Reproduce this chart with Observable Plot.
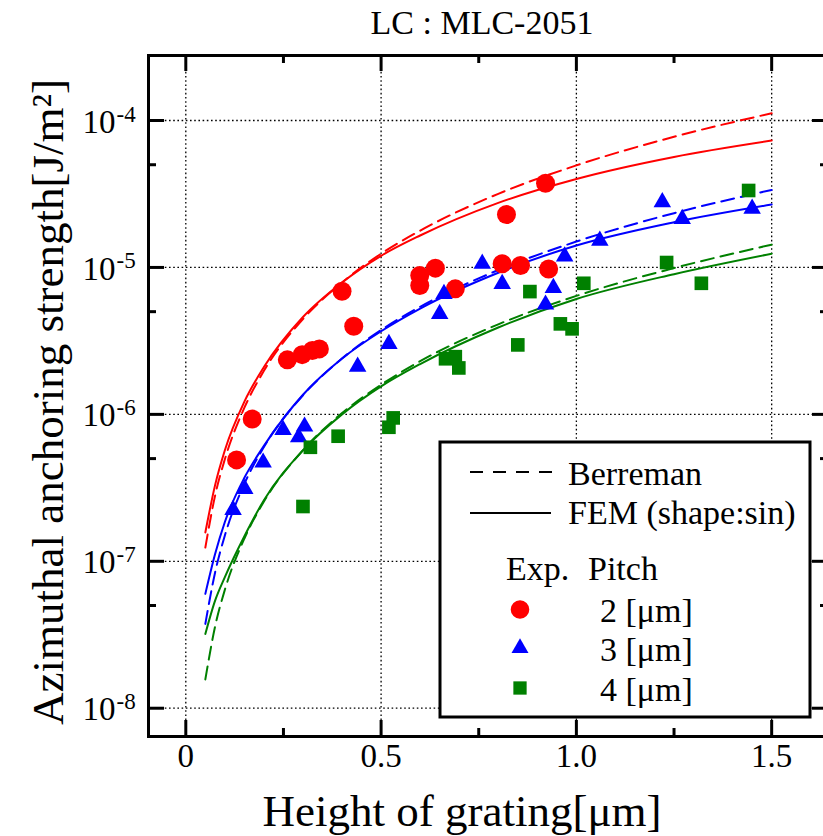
<!DOCTYPE html>
<html><head><meta charset="utf-8">
<script src="https://cdn.jsdelivr.net/npm/d3@7"></script>
<script src="https://cdn.jsdelivr.net/npm/@observablehq/plot@0.6"></script>
<style>
html,body{margin:0;padding:0;overflow:hidden;background:#fff;}
#chart svg{max-width:none !important;}
</style></head><body><div id="chart"></div>
<script>
const FONT = '"Liberation Serif","Times New Roman",Times,serif';

// ---- text / categories ----
const title = "LC : MLC-2051";
const xLabel = "Height of grating[μm]";
const yLabel = "Azimuthal anchoring strength[J/m²]";
const pitches = ["2 [μm]", "3 [μm]", "4 [μm]"];
const colors = ["#ff0000", "#0000ff", "#008000"];
const symbols = ["circle", "triangle", "square"];
const models = ["Berreman", "FEM (shape:sin)"];

// ---- ticks ----
const xTicks = [0, 0.5, 1.0, 1.5];
const xTickLabels = ["0", "0.5", "1.0", "1.5"];
const xMinorTicks = [0.25, 0.75, 1.25];
const yTicks = [1e-4, 1e-5, 1e-6, 1e-7, 1e-8];
const yTickExponents = ["-4", "-5", "-6", "-7", "-8"];
const yMinorTicks = [5e-5, 5e-6, 5e-7, 5e-8];

// ---- model curves ----
const curveX = [0.05, 0.075, 0.1, 0.15, 0.2, 0.3, 0.4, 0.5, 0.6, 0.8, 1.0, 1.25, 1.5];
const berreman2 = [1.24e-7, 2.8e-7, 4.95e-7, 1.11e-6, 1.98e-6, 4.45e-6, 7.9e-6, 1.24e-5, 1.78e-5, 3.17e-5, 4.95e-5, 7.75e-5, 1.12e-4];
const fem2      = [1.57e-7, 3.3e-7, 5.7e-7, 1.22e-6, 2.1e-6, 4.6e-6, 7.9e-6, 1.2e-5, 1.65e-5, 2.75e-5, 4.0e-5, 5.65e-5, 7.3e-5];
const berreman3 = [3.75e-8, 8.4e-8, 1.5e-7, 3.37e-7, 6.0e-7, 1.35e-6, 2.4e-6, 3.75e-6, 5.4e-6, 9.6e-6, 1.5e-5, 2.34e-5, 3.37e-5];
const fem3      = [6.0e-8, 1.12e-7, 1.85e-7, 3.7e-7, 6.1e-7, 1.36e-6, 2.4e-6, 3.68e-6, 5.25e-6, 9.2e-6, 1.41e-5, 2.03e-5, 2.68e-5];
const berreman4 = [1.57e-8, 3.6e-8, 6.4e-8, 1.43e-7, 2.55e-7, 5.7e-7, 1.02e-6, 1.59e-6, 2.3e-6, 4.1e-6, 6.4e-6, 9.9e-6, 1.43e-5];
const fem4      = [3.2e-8, 5.4e-8, 7.8e-8, 1.48e-7, 2.6e-7, 5.7e-7, 1.0e-6, 1.55e-6, 2.2e-6, 3.9e-6, 6.1e-6, 9.0e-6, 1.24e-5];

// ---- experimental points ----
const exp2X = [0.130, 0.170, 0.260, 0.298, 0.324, 0.342, 0.400, 0.430, 0.599, 0.599, 0.639, 0.690, 0.810, 0.821, 0.857, 0.921, 0.929];
const exp2Y = [4.90e-7, 9.3e-7, 2.35e-6, 2.55e-6, 2.72e-6, 2.79e-6, 6.89e-6, 3.98e-6, 8.81e-6, 7.53e-6, 9.89e-6, 7.15e-6, 1.06e-5, 2.29e-5, 1.03e-5, 3.74e-5, 9.77e-6];
const exp3X = [0.121, 0.151, 0.198, 0.249, 0.289, 0.304, 0.440, 0.520, 0.650, 0.661, 0.759, 0.810, 0.921, 0.941, 0.970, 1.060, 1.220, 1.271, 1.450];
const exp3Y = [2.24e-7, 3.11e-7, 4.70e-7, 7.83e-7, 6.98e-7, 8.26e-7, 2.11e-6, 3.02e-6, 4.83e-6, 6.61e-6, 1.06e-5, 7.73e-6, 5.59e-6, 7.26e-6, 1.19e-5, 1.52e-5, 2.78e-5, 2.14e-5, 2.51e-5];
const exp4X = [0.300, 0.319, 0.390, 0.520, 0.531, 0.665, 0.690, 0.699, 0.850, 0.881, 0.959, 0.989, 1.019, 1.231, 1.320, 1.441];
const exp4Y = [2.36e-7, 5.97e-7, 7.10e-7, 8.17e-7, 9.46e-7, 2.39e-6, 2.47e-6, 2.07e-6, 2.97e-6, 6.85e-6, 4.13e-6, 3.82e-6, 7.80e-6, 1.08e-5, 7.80e-6, 3.34e-5];

// ---- tidy tables ----
const berremanSeries = [berreman2, berreman3, berreman4];
const femSeries = [fem2, fem3, fem4];
const expX = [exp2X, exp3X, exp4X];
const expY = [exp2Y, exp3Y, exp4Y];
const berremanData = [], femData = [];
pitches.forEach((p, i) => {
  curveX.forEach((x, j) => {
    berremanData.push({x, y: berremanSeries[i][j], pitch: p});
    femData.push({x, y: femSeries[i][j], pitch: p});
  });
});
const expByPitch = pitches.map((p, i) => expX[i].map((x, j) => ({x, y: expY[i][j], pitch: p})));

const W = 830, H = 836;
const mL = 148, mR = 2, mT = 55, mB = 100;
const pw = W - mL - mR, ph = H - mT - mB;
const dotR = [9.5, 6.5, 7.7];

const svg = Plot.plot({
  width: W, height: H,
  marginLeft: mL, marginRight: mR, marginTop: mT, marginBottom: mB,
  style: {fontFamily: FONT, background: "white", color: "black", overflow: "visible", maxWidth: "none"},
  x: {domain: [-0.0955, 1.6455], axis: null},
  y: {type: "log", domain: [6.42e-9, 2.77e-4], axis: null},
  color: {domain: pitches, range: colors},
  marks: [
    // dotted grid
    Plot.ruleX(xTicks, {stroke: "black", strokeWidth: 1.3, strokeDasharray: "1.6,2.6"}),
    Plot.ruleY(yTicks, {stroke: "black", strokeWidth: 1.3, strokeDasharray: "1.6,2.6"}),
    // model curves
    Plot.line(berremanData, {x: "x", y: "y", z: "pitch", stroke: "pitch", strokeWidth: 2, strokeDasharray: "13,7", curve: "monotone-x"}),
    Plot.line(femData, {x: "x", y: "y", z: "pitch", stroke: "pitch", strokeWidth: 2, curve: "monotone-x"}),
    // experiment points
    ...expByPitch.map((d, i) => Plot.dot(d, {x: "x", y: "y", fill: "pitch", stroke: null, symbol: () => symbols[i], r: dotR[i]})),
    // frame
    Plot.frame({stroke: "black", strokeWidth: 3}),
    // inward ticks
    Plot.ruleX(xTicks, {insetTop: ph - 16, strokeWidth: 3}),
    Plot.ruleX(xTicks, {insetBottom: ph - 16, strokeWidth: 3}),
    Plot.ruleX(xMinorTicks, {insetTop: ph - 8, strokeWidth: 3}),
    Plot.ruleX(xMinorTicks, {insetBottom: ph - 8, strokeWidth: 3}),
    Plot.ruleY(yTicks, {insetRight: pw - 16, strokeWidth: 3}),
    Plot.ruleY(yTicks, {insetLeft: pw - 16, strokeWidth: 3}),
    Plot.ruleY(yMinorTicks, {insetRight: pw - 8, strokeWidth: 3}),
    Plot.ruleY(yMinorTicks, {insetLeft: pw - 8, strokeWidth: 3}),
    // tick labels
    Plot.text(xTicks, {x: d => d, frameAnchor: "bottom", text: (d, i) => xTickLabels[i], lineAnchor: "top", dy: 7, fontSize: 33, fill: "black"}),
    Plot.text(yTicks, {y: d => d, frameAnchor: "left", text: () => "10", textAnchor: "end", lineAnchor: "middle", dx: -33, dy: 1.5, fontSize: 33, fill: "black"}),
    Plot.text(yTicks, {y: d => d, frameAnchor: "left", text: (d, i) => yTickExponents[i], textAnchor: "start", lineAnchor: "bottom", dx: -32, dy: 1, fontSize: 23, fill: "black"}),
    // titles
    Plot.text([title], {text: d => d, frameAnchor: "top", textAnchor: "middle", lineAnchor: "bottom", dy: -22, dx: -6.5, fontSize: 34, fill: "black"}),
    Plot.text([xLabel], {text: d => d, frameAnchor: "bottom", textAnchor: "middle", lineAnchor: "bottom", dy: 89, dx: -26.5, fontSize: 45, fill: "black"}),
    Plot.text([yLabel], {text: d => d, frameAnchor: "left", textAnchor: "middle", lineAnchor: "bottom", rotate: -90, dx: -86, dy: 6, fontSize: 45, fill: "black"})
  ]
});

// ---- legend ----
const g = d3.select(svg).append("g")
  .style("font-family", FONT).style("text-anchor", "start").attr("fill", "black");
g.append("rect").attr("x", 440).attr("y", 442).attr("width", 370).attr("height", 275)
  .attr("fill", "white").attr("stroke", "black").attr("stroke-width", 3);
g.append("line").attr("x1", 470).attr("x2", 553).attr("y1", 472).attr("y2", 472)
  .attr("stroke", "black").attr("stroke-width", 2).attr("stroke-dasharray", "13,10");
g.append("line").attr("x1", 470).attr("x2", 551).attr("y1", 513).attr("y2", 513)
  .attr("stroke", "black").attr("stroke-width", 2);
function legText(x, y, s) {
  g.append("text").attr("x", x).attr("y", y)
    .style("font-family", FONT).style("font-size", "34px").style("text-anchor", "start")
    .attr("fill", "black").text(s);
}
legText(568, 485, models[0]);
legText(568, 524, models[1]);
legText(506, 580, "Exp.");
legText(588, 580, "Pitch");
const legY = [609.5, 648, 688];
const legSym = [d3.symbolCircle, d3.symbolTriangle, d3.symbolSquare];
const legR = [9.3, 6.3, 7.5];
pitches.forEach((p, i) => {
  g.append("path").attr("transform", `translate(520,${legY[i]})`)
    .attr("d", d3.symbol(legSym[i], Math.PI * legR[i] * legR[i])())
    .attr("fill", colors[i]);
  legText(600, legY[i] + 12.5, p);
});

document.getElementById("chart").appendChild(svg);
</script></body></html>
